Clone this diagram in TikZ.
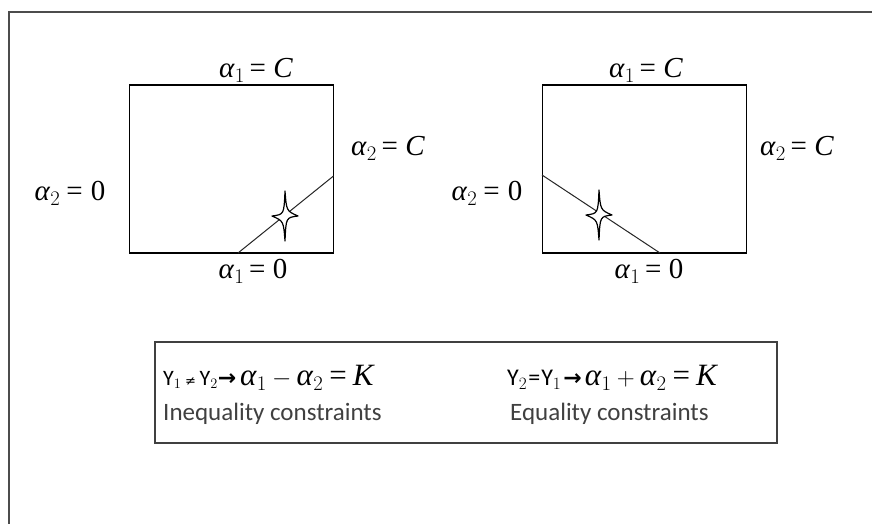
\documentclass[tikz,border=0pt]{standalone}
\usepackage{fontspec}
\setmainfont{Liberation Serif}
\setsansfont{Carlito}
\newfontfamily\symfont{DejaVu Sans}
\newcommand\al[1]{\textit{α}$_{#1}$}
\tikzset{
  lab/.style={inner sep=0pt, font=\fontsize{29}{31}\selectfont},
  region/.style={draw=black, line width=1.5pt, inner sep=0pt, minimum width=204pt, minimum height=168pt},
  cut/.style={draw=black!85, line width=1pt},
  starshape/.style={draw=black, fill=white, line width=1.2pt, line join=round},
  legend/.style={draw=black!75, line width=2pt, inner sep=0pt, minimum width=622pt, minimum height=101pt},
  eqn/.style={inner sep=0pt, anchor=west, font=\fontsize{22}{24}\selectfont},
  captext/.style={inner sep=0pt, anchor=west, font=\sffamily\fontsize{25}{27}\selectfont, text=black!75},
  frame/.style={draw=black!70, line width=2.2pt}
}
\newcommand\fourstar[1]{%
  \path[starshape] (#1) ++(0,-25) .. controls +(1.5,20) .. ++(13,25)
    .. controls +(-12,1.5) .. ++(-13,25)
    .. controls +(-1.5,-20) .. ++(-13,-25)
    .. controls +(12,-1.5) .. cycle;}
\newcommand\mathpart[1]{{\fontsize{31}{33}\selectfont #1}}
\begin{document}
\begin{tikzpicture}[x=1pt,y=-1pt]
\useasboundingbox (0,0) rectangle (872,523);
\clip (0,0) rectangle (872,523);
\fill[white] (0,0) rectangle (872,523);
\coordinate (ftr) at (880,12);
\coordinate (ftl) at (9,12);
\coordinate (fbl) at (9,530);
\draw[frame] (ftr) -- (ftl) -- (fbl);

% left region
\node[region] (ra) at (231.5,169) {};
\coordinate (a1) at (238,253);
\coordinate (a2) at (333.5,176);
\draw[cut] (a1) -- (a2);
\coordinate (sa) at (285,216);
\fourstar{sa}
\node[lab] (ta) at (256,70) {\al1\,= \textit{C}};
\node[lab] (ba) at (253,271) {\al1\,= 0};
\node[lab] (la) at (70,193) {\al2\hspace{6pt}=\hspace{8pt}0};
\node[lab] (rra) at (388,148) {\al2\,= \textit{C}};

% right region
\node[region] (rb) at (644.5,169) {};
\coordinate (b1) at (542,175);
\coordinate (b2) at (660,253);
\draw[cut] (b1) -- (b2);
\coordinate (sb) at (599,215);
\fourstar{sb}
\node[lab] (tb) at (646,70) {\al1\,= \textit{C}};
\node[lab] (bb) at (649,271) {\al1\,= 0};
\node[lab] (lb) at (487,193) {\al2\hspace{6pt}=\hspace{8pt}0};
\node[lab] (rrb) at (797,148) {\al2\,= \textit{C}};

% legend box
\node[legend] (box) at (466,392.5) {};
\node[eqn] (e1) at (163,378) {{\sffamily Y$_{1}$\,{\symfont\fontsize{13}{15}\selectfont ≠}\,Y$_{2}$}{\symfont\bfseries →}\,\mathpart{\al1\,$-$\,\al2\hspace{6pt}=\hspace{6pt}\textit{K}}};
\node[eqn] (e2) at (507,378) {{\sffamily\fontsize{24}{26}\selectfont Y$_{2}$\hspace{1pt}=\hspace{1pt}Y$_{1}$}\hspace{2pt}{\symfont\bfseries →}\hspace{3pt}\mathpart{\al1\,$+$\,\al2\hspace{6pt}=\hspace{6pt}\textit{K}}};
\node[captext] (c1) at (163,414) {Inequality constraints};
\node[captext] (c2) at (510,414) {Equality constraints};
\end{tikzpicture}
\end{document}
